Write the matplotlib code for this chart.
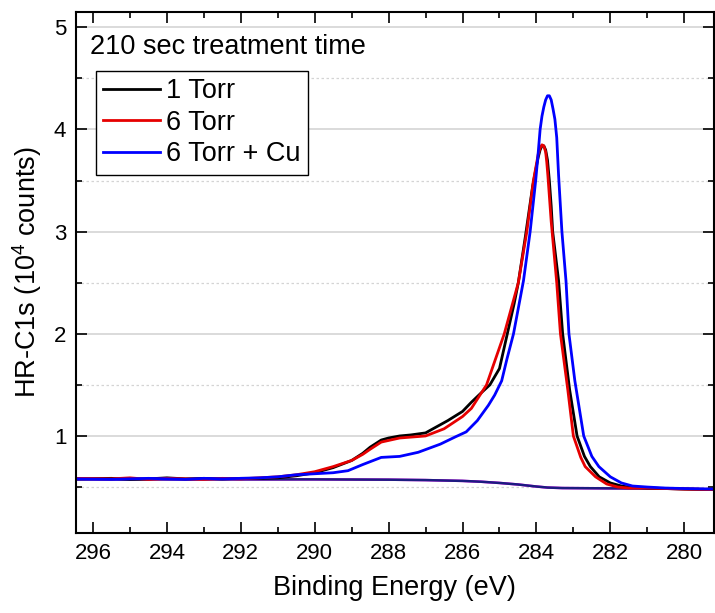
import numpy as np
import matplotlib.pyplot as plt
from matplotlib.ticker import MultipleLocator

plt.rcParams['font.family'] = ['Liberation Sans', 'DejaVu Sans']
plt.rcParams['mathtext.fontset'] = 'custom'
plt.rcParams['mathtext.rm'] = 'Liberation Sans'

# binding energy (eV) and intensity (10^4 counts)
be_1torr = [296.5, 295.5, 295.0, 294.5, 294.0, 293.5, 293.0, 292.5, 292.0, 291.5,
            291.0, 290.5, 290.0, 289.5, 289.0, 288.7, 288.5, 288.2, 288.0, 287.7,
            287.4, 287.0, 286.7, 286.4, 286.0, 285.76, 285.5, 285.26, 285.0, 284.8,
            284.6, 284.49, 284.3, 284.1, 284.0, 283.95, 283.9, 283.85, 283.8, 283.75,
            283.7, 283.65, 283.6, 283.56, 283.4, 283.29, 283.1, 282.9, 282.7, 282.54,
            282.3, 282.0, 281.7, 281.5, 281.0, 280.5, 280.0, 279.2]
int_1torr = [0.58, 0.585, 0.575, 0.58, 0.59, 0.58, 0.585, 0.58, 0.585, 0.585,
             0.59, 0.61, 0.64, 0.69, 0.76, 0.83, 0.89, 0.96, 0.98, 1.0,
             1.01, 1.03, 1.09, 1.15, 1.24, 1.33, 1.42, 1.5, 1.66, 1.98,
             2.3, 2.5, 2.95, 3.45, 3.64, 3.73, 3.8, 3.84, 3.84, 3.8,
             3.7, 3.5, 3.25, 3.0, 2.52, 2.0, 1.45, 1.0, 0.8, 0.7,
             0.6, 0.54, 0.51, 0.5, 0.49, 0.485, 0.48, 0.475]

be_6torr = [296.5, 295.5, 295.0, 294.5, 294.0, 293.5, 293.0, 292.5, 292.0, 291.5,
            291.0, 290.5, 290.0, 289.5, 289.0, 288.7, 288.5, 288.2, 287.7, 287.0,
            286.5, 286.0, 285.76, 285.35, 284.87, 284.49, 284.26, 284.08, 284.0, 283.95,
            283.9, 283.85, 283.8, 283.75, 283.72, 283.69, 283.6, 283.45, 283.35, 283.15,
            283.0, 282.8, 282.68, 282.4, 282.1, 281.8, 281.5, 281.0, 280.0, 279.2]
int_6torr = [0.585, 0.58, 0.59, 0.575, 0.585, 0.58, 0.575, 0.585, 0.58, 0.59,
             0.6, 0.62, 0.65, 0.7, 0.76, 0.82, 0.87, 0.94, 0.98, 1.0,
             1.07, 1.19, 1.27, 1.5, 2.0, 2.5, 3.0, 3.5, 3.66, 3.76,
             3.82, 3.85, 3.84, 3.78, 3.68, 3.55, 3.1, 2.5, 2.0, 1.45,
             1.0, 0.79, 0.7, 0.6, 0.53, 0.5, 0.49, 0.49, 0.48, 0.475]

be_cu = [296.5, 295.5, 295.0, 294.5, 294.0, 293.5, 293.0, 292.5, 292.0, 291.5,
         291.0, 290.5, 290.0, 289.5, 289.1, 288.7, 288.2, 287.7, 287.2, 286.6,
         286.2, 285.9, 285.6, 285.3, 285.13, 284.94, 284.8, 284.62, 284.35, 284.17,
         284.02, 283.95, 283.9, 283.85, 283.8, 283.75, 283.7, 283.65, 283.6, 283.55,
         283.5, 283.45, 283.4, 283.31, 283.2, 283.12, 282.96, 282.72, 282.5,
         282.31, 282.0, 281.7, 281.4, 281.0, 280.5, 280.0, 279.2]
int_cu = [0.58, 0.575, 0.58, 0.585, 0.58, 0.575, 0.585, 0.58, 0.585, 0.59,
          0.6, 0.62, 0.63, 0.64, 0.66, 0.72, 0.79, 0.8, 0.84, 0.92,
          0.99, 1.04, 1.15, 1.3, 1.4, 1.54, 1.75, 2.0, 2.52, 3.0,
          3.5, 3.78, 4.0, 4.13, 4.22, 4.29, 4.33, 4.33, 4.29, 4.2,
          4.1, 3.92, 3.55, 3.0, 2.52, 2.0, 1.54, 1.0, 0.8,
          0.7, 0.6, 0.54, 0.51, 0.5, 0.49, 0.485, 0.48]

# Shirley-type backgrounds
be_bg = [296.5, 290.0, 288.0, 287.0, 286.0, 285.5, 285.0, 284.5, 284.0, 283.7,
         283.3, 282.0, 281.0, 280.0, 279.2]
int_bg = [0.575, 0.575, 0.572, 0.568, 0.56, 0.552, 0.54, 0.525, 0.505, 0.495,
          0.49, 0.487, 0.485, 0.482, 0.478]

fig = plt.figure(figsize=(7.15, 6.13), dpi=100)
ax = fig.add_axes([0.1063, 0.1305, 0.8920, 0.8499])

ax.plot(be_bg, int_bg, color='#ff00ff', lw=1.8)
ax.plot(be_bg, int_bg, color='#1c1c80', lw=1.8)
ax.plot(be_1torr, int_1torr, color='black', lw=2, label='1 Torr')
ax.plot(be_6torr, int_6torr, color='#e60000', lw=2, label='6 Torr')
ax.plot(be_cu, int_cu, color='#0000ff', lw=2, label='6 Torr + Cu')

ax.set_xlim(296.46, 279.2)
ax.set_ylim(0.05, 5.15)

ax.xaxis.set_major_locator(MultipleLocator(2))
ax.xaxis.set_minor_locator(MultipleLocator(1))
ax.yaxis.set_major_locator(MultipleLocator(1))
ax.yaxis.set_minor_locator(MultipleLocator(0.5))

ax.grid(axis='y', which='major', color='#d4d4d4', lw=1.2, ls='-')
ax.grid(axis='y', which='minor', color='#d4d4d4', lw=0.9, ls=(0, (2, 2)))
ax.set_axisbelow(True)

ax.tick_params(which='both', direction='in', top=True, right=True,
               labelsize=16, width=1.2, pad=7)
ax.tick_params(which='major', length=8)
ax.tick_params(which='minor', length=4)
for s in ax.spines.values():
    s.set_linewidth(1.5)

ax.set_xlabel('Binding Energy (eV)', fontsize=19.5, labelpad=8)
ax.set_ylabel(r'HR-C1s (10$^{\mathregular{4}}$ counts)', fontsize=19.5, labelpad=7)

ax.text(0.022, 0.933, '210 sec treatment time', transform=ax.transAxes,
        fontsize=19.5, va='center', ha='left')

leg = ax.legend(loc='upper left', bbox_to_anchor=(0.031, 0.887), fontsize=19.5,
                frameon=True, fancybox=False, edgecolor='black', framealpha=1,
                handlelength=2.1, handletextpad=0.2, borderpad=0.28,
                labelspacing=0.2, borderaxespad=0)
leg.get_frame().set_linewidth(1.0)

fig.savefig('out.png', dpi=100)
